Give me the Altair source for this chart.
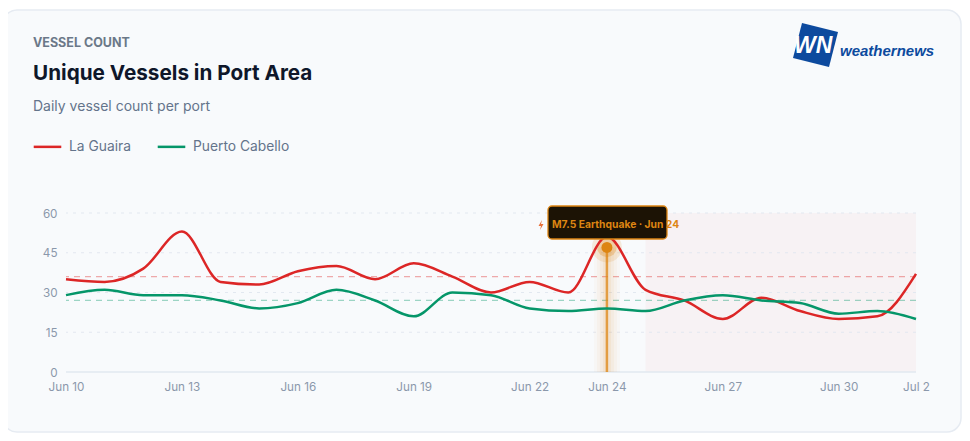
import altair as alt
import pandas as pd

days = ["Jun 10","Jun 11","Jun 12","Jun 13","Jun 14","Jun 15","Jun 16","Jun 17","Jun 18","Jun 19","Jun 20","Jun 21",
        "Jun 22","Jun 23","Jun 24","Jun 25","Jun 26","Jun 27","Jun 28","Jun 29","Jun 30","Jul 1","Jul 2"]
la_guaira = [35,34,39,53,34,33,38,40,35,41,36,30,34,30,51,31,27,20,28,23,20,21,37]
puerto_cabello = [29,31,29,29,27,24,26,31,27,21,30,29,24,23,24,23,27,29,27,26,22,23,20]
tick_labels = ["Jun 10","Jun 13","Jun 16","Jun 19","Jun 22","Jun 24","Jun 27","Jun 30","Jul 2"]
y_ticks = [15,30,45,60]
series_names = ["La Guaira","Puerto Cabello"]
series_colors = ["#dc2626","#059669"]
series_means = [36,27]
FONT = "Inter"
ORANGE = "#dd8512"

long = pd.DataFrame({"day": days*2, "value": la_guaira+puerto_cabello,
                     "port": [series_names[0]]*len(days)+[series_names[1]]*len(days)})
one = pd.DataFrame({"a":[0]})
event = pd.DataFrame({"d":["Jun 24"],"v":[47],"z":[0]})
xs = alt.Scale(type="point", domain=days, padding=0)
ys = alt.Scale(domain=[0,60], nice=False)
x_axis = alt.Axis(values=tick_labels, labelAngle=0, domain=False, ticks=False, grid=False, labelFont=FONT,
                  labelFontSize=11.7, labelColor="#8b98ab", labelPadding=9, labelOverlap=False, labelFlush=False,
                  zindex=1, title=None)
y_axis = alt.Axis(values=[0]+y_ticks, domain=False, ticks=False, grid=False, labelFont=FONT, labelFontSize=11.7,
                  labelColor="#8b98ab", labelPadding=9, zindex=1, title=None)
color_enc = alt.Color("port:N", scale=alt.Scale(domain=series_names, range=series_colors), legend=alt.Legend(
    orient="none", legendX=-34, legendY=-82, direction="horizontal", title=None, symbolType="stroke",
    symbolSize=760, symbolStrokeWidth=2.5, symbolOpacity=1, labelFont=FONT, labelFontSize=13.8, labelColor="#64748b",
    columnPadding=21, labelOffset=6))

def X(f):
    return alt.X(f, scale=xs, axis=x_axis)
def Y(f):
    return alt.Y(f, scale=ys, axis=y_axis)

def box(left, right, top, bottom, **kw):
    return alt.Chart(one).mark_rect(**kw).encode(
        x=alt.value(left-66), x2=alt.value(right-66), y=alt.value(top-213), y2=alt.value(bottom-213))

def label(txt, left, mid, size, color, weight="normal", font=FONT, **kw):
    return alt.Chart(pd.DataFrame({"t":[txt]})).mark_text(
        align="left", baseline="middle", fontSize=size, color=color, fontWeight=weight, font=font, **kw
    ).encode(x=alt.value(left-66), y=alt.value(mid-213), text="t:N")

def shape(path, size, color, cx, cy):
    return alt.Chart(one).mark_point(shape=path, size=size, filled=True, color=color, opacity=1, strokeWidth=0).encode(
        x=alt.value(cx-66), y=alt.value(cy-213))

card = box(3,961,10,432, fill="#f8fafc", stroke="#e6ebf2", strokeWidth=1.5, cornerRadius=14)

shade = alt.Chart(pd.DataFrame({"a":["Jun 25"],"b":["Jul 2"]})).mark_rect(fill="#dc2626", opacity=0.035).encode(
    x=X("a:N"), x2="b:N")

grid = alt.Chart(pd.DataFrame({"v":y_ticks})).mark_rule(color="#e2e8f0", strokeWidth=1.2, strokeDash=[3,5]).encode(y=Y("v:Q"))
base = alt.Chart(pd.DataFrame({"v":[0]})).mark_rule(color="#e2e8f0", strokeWidth=1.5).encode(y=Y("v:Q"))

means = alt.Chart(pd.DataFrame({"v":series_means,"port":series_names})).mark_rule(
    strokeWidth=1.3, strokeDash=[6,5], opacity=0.38).encode(y=Y("v:Q"), color=color_enc)

def vrule(width, opacity):
    return alt.Chart(event).mark_rule(color=ORANGE, strokeWidth=width, opacity=opacity).encode(
        x=X("d:N"), y=Y("v:Q"), y2="z:Q")

def halo(size, opacity):
    return alt.Chart(event).mark_circle(size=size, color=ORANGE, opacity=opacity).encode(x=X("d:N"), y=Y("v:Q"))

lines = alt.Chart(long).mark_line(interpolate="monotone", strokeWidth=2.5).encode(
    x=X("day:N"), y=Y("value:Q"), color=color_enc)

chart = alt.layer(
    card, shade, grid, base, means,
    vrule(26,0.03), vrule(20,0.04), vrule(14,0.05), vrule(8,0.07), vrule(2.5,0.75),
    halo(900,0.14), halo(380,0.28),
    lines, halo(120,1),
    box(548,667,206,239, fill="#1c1305", stroke=ORANGE, strokeWidth=1.3, cornerRadius=4),
    shape("M0.2,-1 L-0.5,0.2 L0,0.2 L-0.2,1 L0.5,-0.2 L0,-0.2 Z", 100, "#e8703a", 541, 225),
    label("M7.5 Earthquake · Jun 24", 552, 225, 10.3, ORANGE, "bold"),
    label("VESSEL COUNT", 33, 43, 12.5, "#6b7888", "bold"),
    label("Unique Vessels in Port Area", 33, 74, 20.7, "#0f172a", "bold"),
    label("Daily vessel count per port", 33, 107, 14, "#64748b"),
    shape("M-0.6,-0.98 L1,-0.58 L0.6,0.98 L-1,0.58 Z", 2025, "#0d4a9e", 815.5, 45),
    label("WN", 794, 46, 23, "#ffffff", "bold", "Liberation Sans", fontStyle="italic"),
    label("weathernews", 840, 51, 15, "#0d4a9e", "bold", "Liberation Sans", fontStyle="italic"),
).properties(
    width=850, height=159,
    padding={"left":58,"top":205,"right":46,"bottom":61},
    autosize=alt.AutoSizeParams(type="none"),
    background="white",
).configure_view(stroke=None)

chart.save("out.html", embed_options={"renderer": "svg", "actions": False})
